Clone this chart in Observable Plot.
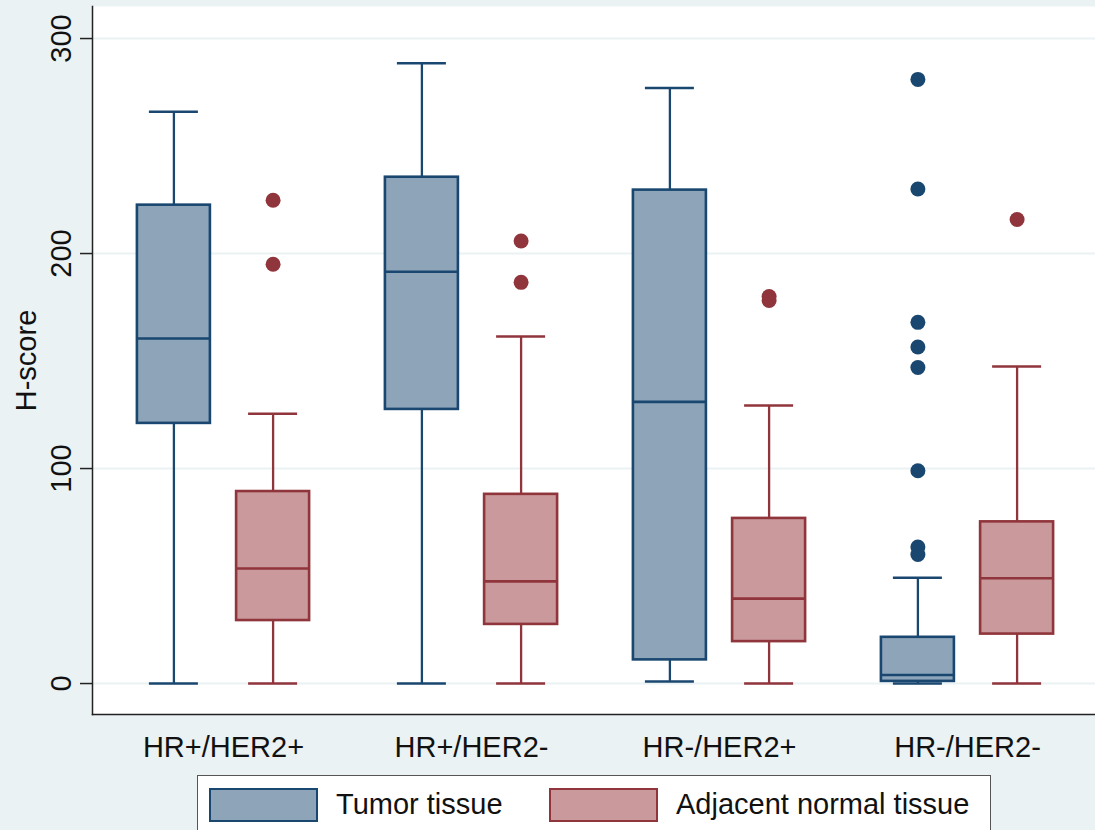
<!DOCTYPE html>
<html>
<head>
<meta charset="utf-8">
<script src="https://cdn.jsdelivr.net/npm/d3@7"></script>
<script src="https://cdn.jsdelivr.net/npm/@observablehq/plot@0.6"></script>
<style>
  html, body { margin: 0; padding: 0; background: #eaf2f3; width: 1095px; height: 830px; overflow: hidden; }
  body { font-family: "Liberation Sans", Arial, sans-serif; position: relative; }
  #chart svg { display: block; }
  #legend {
    position: absolute; left: 197px; top: 775px; width: 794px; height: 60px;
    background: white; border: 1px solid #555; box-sizing: border-box;
  }
  .sw { position: absolute; top: 12px; width: 109px; height: 34px; box-sizing: border-box; border: 2.5px solid; }
  .lt { position: absolute; top: 11px; font-size: 29px; line-height: 34px; color: #111; white-space: nowrap; }
</style>
</head>
<body>
<div id="chart"></div>
<div id="legend"></div>
<script>
// ---- data ----
const groups = ["HR+/HER2+", "HR+/HER2-", "HR-/HER2+", "HR-/HER2-"];
const seriesNames = ["Tumor tissue", "Adjacent normal tissue"];

const tumorLo  = [0, 0, 1, 0];
const tumorQ1  = [121, 127.5, 11, 1];
const tumorMed = [160.5, 191.5, 131, 4];
const tumorQ3  = [222.5, 235.5, 229.5, 21.5];
const tumorHi  = [266, 288.5, 277, 49.2];
const tumorOutliers = [[], [], [], [281, 230, 168, 156.5, 147, 99, 63.5, 60]];

const normalLo  = [0, 0, 0, 0];
const normalQ1  = [29.3, 27.5, 19.5, 23];
const normalMed = [53.5, 47.5, 39.5, 49];
const normalQ3  = [89.3, 88, 76.8, 75.2];
const normalHi  = [125.5, 161.4, 129.3, 147.5];
const normalOutliers = [[224.8, 195], [205.8, 186.6], [180, 178.2], [215.8]];

const yTicks = [0, 100, 200, 300];

const fillColors   = ["#8da4b9", "#c9999c"];
const strokeColors = ["#1a476f", "#90353b"];

// ---- build tables ----
function boxRows(lo, q1, med, q3, hi) {
  return groups.map((g, i) => ({group: g, lo: lo[i], q1: q1[i], med: med[i], q3: q3[i], hi: hi[i]}));
}
function outlierRows(outs) {
  return groups.flatMap((g, i) => outs[i].map(v => ({group: g, value: v})));
}
const tumorRows = boxRows(tumorLo, tumorQ1, tumorMed, tumorQ3, tumorHi);
const normalRows = boxRows(normalLo, normalQ1, normalMed, normalQ3, normalHi);
const tumorOut = outlierRows(tumorOutliers);
const normalOut = outlierRows(normalOutliers);

const boxInset = 87.5;
const capInset = 99.5;
const offset = 49.6;

function seriesMarks(rows, outs, k, dx) {
  const stroke = strokeColors[k], fill = fillColors[k];
  return [
    Plot.ruleX(rows, {x: "group", y1: "lo", y2: "q1", stroke, strokeWidth: 2.3, dx}),
    Plot.ruleX(rows, {x: "group", y1: "q3", y2: "hi", stroke, strokeWidth: 2.3, dx}),
    Plot.tickY(rows, {x: "group", y: "lo", stroke, strokeWidth: 2.5, insetLeft: capInset, insetRight: capInset, dx}),
    Plot.tickY(rows, {x: "group", y: "hi", stroke, strokeWidth: 2.5, insetLeft: capInset, insetRight: capInset, dx}),
    Plot.barY(rows, {x: "group", y1: "q1", y2: "q3", fill, stroke, strokeWidth: 2.6, insetLeft: boxInset, insetRight: boxInset, dx}),
    Plot.tickY(rows, {x: "group", y: "med", stroke, strokeWidth: 2.6, insetLeft: boxInset, insetRight: boxInset, dx}),
    Plot.dot(outs, {x: "group", y: "value", r: 7.5, fill: stroke, stroke: null, dx})
  ];
}

const chart = Plot.plot({
  width: 1095,
  height: 770,
  marginTop: 6,
  marginBottom: 56,
  marginLeft: 92,
  marginRight: 0,
  style: {background: "#eaf2f3", fontFamily: "'Liberation Sans', Arial, sans-serif", fontSize: "29px", color: "#111"},
  x: {type: "band", domain: groups, range: [99, 1091], padding: 0},
  y: {domain: [-14.4, 314.9]},
  marks: [
    Plot.frame({fill: "white", stroke: null}),
    Plot.ruleY(yTicks, {stroke: "#eaf2f3", strokeWidth: 2}),
    ...seriesMarks(tumorRows, tumorOut, 0, -offset),
    ...seriesMarks(normalRows, normalOut, 1, offset),
    Plot.frame({anchor: "left", stroke: "#222", strokeWidth: 1.5}),
    Plot.frame({anchor: "bottom", stroke: "#222", strokeWidth: 1.5}),
    Plot.axisY({ticks: yTicks, tickSize: 12, tickPadding: 10, tickRotate: -90, fontSize: 29, label: null, stroke: "#222", strokeWidth: 1.5}),
    Plot.axisX({tickSize: 0, tickPadding: 21.5, fontSize: 29, label: null}),
    Plot.text(["H-score"], {text: d => d, frameAnchor: "left", dx: -57, rotate: -90, textAnchor: "middle", lineAnchor: "bottom", fontSize: 29, fill: "#111"})
  ]
});
document.getElementById("chart").appendChild(chart);

// ---- legend ----
const legend = document.getElementById("legend");
const swLeft = [11, 351];
const txLeft = [138, 478];
seriesNames.forEach((name, k) => {
  const sw = document.createElement("div");
  sw.className = "sw";
  sw.style.left = swLeft[k] + "px";
  sw.style.background = fillColors[k];
  sw.style.borderColor = strokeColors[k];
  legend.appendChild(sw);
  const t = document.createElement("div");
  t.className = "lt";
  t.style.left = txLeft[k] + "px";
  t.textContent = name;
  legend.appendChild(t);
});
</script>
</body>
</html>
